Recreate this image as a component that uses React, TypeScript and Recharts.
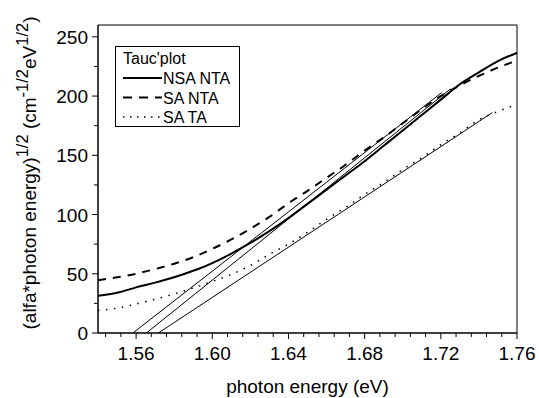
import React from "react";
import {
  LineChart,
  Line,
  XAxis,
  YAxis,
  Legend,
  ReferenceArea,
} from "recharts";

// photon energy (eV) sample points
const energy = [
  1.54, 1.55, 1.56, 1.57, 1.58, 1.59, 1.6, 1.61, 1.62, 1.63, 1.64, 1.65,
  1.66, 1.67, 1.68, 1.69, 1.7, 1.71, 1.72, 1.73, 1.74, 1.75, 1.76,
];
const nsaNta = [
  31.5, 34, 38.5, 42.5, 47, 52.5, 59, 67, 76, 86, 97, 109, 121, 133, 145,
  158, 171, 184, 197, 210, 220, 229.5, 236.5,
];
const saNta = [
  44.5, 47, 50, 54, 58.5, 64, 71, 79, 88, 98, 109.5, 120, 131, 142, 154,
  165, 177, 189, 200, 209, 217, 224, 230,
];
const saTa = [
  19, 21, 24.5, 28.5, 33, 38, 43.5, 49.5, 57, 66.5, 75, 85, 96, 106, 117,
  127, 138, 148, 159, 169, 180, 187, 193,
];

// linear fits (end points)
const fitSaNtaX = [1.5583, 1.7205];
const fitSaNtaY = [0, 203];
const fitNsaNtaX = [1.5654, 1.725];
const fitNsaNtaY = [0, 206];
const fitSaTaX = [1.5717, 1.747];
const fitSaTaY = [0, 186];

const xMajorTicks = [1.56, 1.6, 1.64, 1.68, 1.72, 1.76];
const xMinorTicks = [
  1.544, 1.552, 1.568, 1.576, 1.584, 1.592, 1.608, 1.616, 1.624, 1.632,
  1.648, 1.656, 1.664, 1.672, 1.688, 1.696, 1.704, 1.712, 1.728, 1.736,
  1.744, 1.752,
];
const yMajorTicks = [0, 50, 100, 150, 200, 250];
const yMinorTicks = [25, 75, 125, 175, 225];

const FONT = "'Liberation Sans', Arial, sans-serif";

const curveData = energy.map((x, i) => ({
  x,
  nsaNta: nsaNta[i],
  saNta: saNta[i],
  saTa: saTa[i],
}));

const toPoints = (xs: number[], ys: number[]) =>
  xs.map((x, i) => ({ x, y: ys[i] }));

const isIn = (list: number[], v: number) =>
  list.some((t) => Math.abs(t - v) < 1e-6);

const XTick = (props: any) => {
  const { x, y, payload } = props;
  const major = isIn(xMajorTicks, payload.value);
  return (
    <g>
      <line x1={x} y1={y} x2={x} y2={y + (major ? 6 : 4)} stroke="#000" />
      {major && (
        <text x={x} y={y + 27} textAnchor="middle" fontFamily={FONT} fontSize={19} fill="#000">
          {payload.value.toFixed(2)}
        </text>
      )}
    </g>
  );
};

const YTick = (props: any) => {
  const { x, y, payload } = props;
  const major = isIn(yMajorTicks, payload.value);
  return (
    <g>
      <line x1={x} y1={y} x2={x - (major ? 6 : 4)} y2={y} stroke="#000" />
      {major && (
        <text x={x - 10} y={y + 7} textAnchor="end" fontFamily={FONT} fontSize={19} fill="#000">
          {payload.value}
        </text>
      )}
    </g>
  );
};

const XTitle = (props: any) => {
  const vb = props.viewBox;
  return (
    <text x={vb.x + vb.width / 2} y={vb.y + 60} textAnchor="middle" fontFamily={FONT} fontSize={19} fill="#000">
      photon energy (eV)
    </text>
  );
};

const YTitle = () => {
  const cx = 36;
  const cy = 173;
  return (
    <text
      x={cx}
      y={cy}
      transform={`rotate(-90, ${cx}, ${cy})`}
      textAnchor="middle"
      fontFamily={FONT}
      fontSize={19}
      fill="#000"
    >
      <tspan>(alfa*photon energy)</tspan>
      <tspan dy={-8} fontSize={16.5}>1/2</tspan>
      <tspan dy={8}> (cm</tspan>
      <tspan dy={-8} fontSize={16.5}>-1/2</tspan>
      <tspan dy={8}>eV</tspan>
      <tspan dy={-8} fontSize={16.5}>1/2</tspan>
      <tspan dy={8}>)</tspan>
    </text>
  );
};

const legendItems = [
  { name: "NSA NTA", dash: undefined as string | undefined, width: 2 },
  { name: "SA NTA", dash: "9 7", width: 2 },
  { name: "SA TA", dash: "1.5 5.5", width: 1.5 },
];

const LegendBox = () => (
  <svg width={125} height={81} style={{ display: "block" }}>
    <rect x={0.5} y={0.5} width={124} height={80} fill="#fff" stroke="#000" />
    <text x={8} y={18} fontFamily={FONT} fontSize={16} fill="#000">
      Tauc'plot
    </text>
    {legendItems.map((it, i) => {
      const cy = 32 + i * 19.5;
      return (
        <g key={it.name}>
          <line x1={8} x2={47} y1={cy} y2={cy} stroke="#000" strokeWidth={it.width} strokeDasharray={it.dash} />
          <text x={48} y={cy + 6} fontFamily={FONT} fontSize={16} fill="#000">
            {it.name}
          </text>
        </g>
      );
    })}
  </svg>
);

export default function App() {
  return (
    <div style={{ position: "absolute", left: 0, top: 0, background: "#fff" }}>
      <LineChart
        width={539}
        height={398}
        data={curveData}
        margin={{ top: 25, right: 22, bottom: 15, left: 38 }}
      >
        <XAxis
          dataKey="x"
          type="number"
          domain={[1.54, 1.76]}
          allowDataOverflow
          ticks={[...xMajorTicks, ...xMinorTicks].sort((a, b) => a - b)}
          interval={0}
          tick={<XTick />}
          tickLine={false}
          tickSize={0}
          tickMargin={0}
          height={50}
          axisLine={{ stroke: "#000" }}
          label={<XTitle />}
        />
        <YAxis
          type="number"
          domain={[0, 260]}
          allowDataOverflow
          ticks={[...yMajorTicks, ...yMinorTicks].sort((a, b) => a - b)}
          interval={0}
          tick={<YTick />}
          tickLine={false}
          tickSize={0}
          tickMargin={0}
          width={60}
          axisLine={{ stroke: "#000" }}
          label={<YTitle />}
        />
        <ReferenceArea x1={1.54} x2={1.76} y1={0} y2={260} fill="none" stroke="#000" strokeWidth={1} />
        <Line type="monotone" dataKey="nsaNta" stroke="#000" strokeWidth={2} dot={false} isAnimationActive={false} />
        <Line type="monotone" dataKey="saNta" stroke="#000" strokeWidth={2} strokeDasharray="8 7" dot={false} isAnimationActive={false} />
        <Line type="monotone" dataKey="saTa" stroke="#000" strokeWidth={1.5} strokeDasharray="1.5 6.5" dot={false} isAnimationActive={false} />
        <Line data={toPoints(fitSaNtaX, fitSaNtaY)} type="linear" dataKey="y" stroke="#000" strokeWidth={1} dot={false} isAnimationActive={false} />
        <Line data={toPoints(fitNsaNtaX, fitNsaNtaY)} type="linear" dataKey="y" stroke="#000" strokeWidth={1} dot={false} isAnimationActive={false} />
        <Line data={toPoints(fitSaTaX, fitSaTaY)} type="linear" dataKey="y" stroke="#000" strokeWidth={1} dot={false} isAnimationActive={false} />
        <Legend
          layout="vertical"
          align="center"
          verticalAlign="middle"
          content={<LegendBox />}
          wrapperStyle={{ top: 46, left: 115, width: 125, height: 81 }}
        />
      </LineChart>
    </div>
  );
}
